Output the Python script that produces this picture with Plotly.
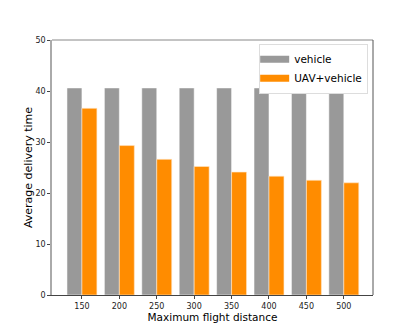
import plotly.graph_objects as go

# maximum flight distance and average delivery time
distances = ["150", "200", "250", "300", "350", "400", "450", "500"]
vehicle = [40.6, 40.6, 40.6, 40.6, 40.6, 40.6, 40.6, 40.6]
uav_vehicle = [36.6, 29.3, 26.6, 25.2, 24.1, 23.3, 22.5, 22.0]

gray = "#999999"
orange = "#FF8C00"

fig = go.Figure()
fig.add_trace(go.Bar(x=distances, y=vehicle, name="vehicle", showlegend=False,
                     marker=dict(color=gray, line=dict(color="rgba(255,255,255,0.5)", width=1))))
fig.add_trace(go.Bar(x=distances, y=uav_vehicle, name="UAV+vehicle", showlegend=False,
                     marker=dict(color=orange, line=dict(color="rgba(255,230,200,0.6)", width=1))))
# legend entries drawn as wide patches (matplotlib style)
for name, col in [("vehicle", gray), ("UAV+vehicle", orange)]:
    fig.add_trace(go.Scatter(x=[None], y=[None], mode="lines", name=name,
                             line=dict(color=col, width=7)))

fig.update_layout(
    width=415, height=332,
    margin=dict(l=52, r=42, t=40, b=37, autoexpand=False),
    paper_bgcolor="white", plot_bgcolor="white",
    barmode="group", bargap=0.2, bargroupgap=0,
    font=dict(family="DejaVu Sans", color="black"),
    showlegend=True,
    legend=dict(x=0.985, y=0.985, xanchor="right", yanchor="top",
                bgcolor="white", bordercolor="#dddddd", borderwidth=1,
                font=dict(size=10.5), itemwidth=30, tracegroupgap=0,
                indentation=-6),
)
fig.update_xaxes(
    type="category", range=[-0.8, 7.78], automargin=False,
    showgrid=False, zeroline=False,
    showline=True, linecolor="#444444", linewidth=1, mirror=False,
    ticks="outside", ticklen=3, tickcolor="#444444",
    tickfont=dict(size=8, color="#222222"),
    title=dict(text="Maximum flight distance", font=dict(size=10.5), standoff=0),
)
fig.update_yaxes(
    range=[0, 50], dtick=10, automargin=False,
    showgrid=False, zeroline=False,
    showline=True, linecolor="#aaaaaa", linewidth=1.5, mirror=False,
    ticks="outside", ticklen=3, tickcolor="#444444",
    tickfont=dict(size=8, color="#222222"),
    title=dict(text="Average delivery time", font=dict(size=11), standoff=0),
)
# top and right spines
fig.add_shape(type="line", xref="paper", yref="paper", x0=0, x1=1, y0=1, y1=1,
              line=dict(color="#888888", width=1))
fig.add_shape(type="line", xref="paper", yref="paper", x0=1, x1=1, y0=0, y1=1,
              line=dict(color="#555555", width=1))

# drop the default page margin so the figure sits at the window corner
fig.write_html("out.html", config={"displayModeBar": False},
               post_script="document.body.style.margin='0';")
